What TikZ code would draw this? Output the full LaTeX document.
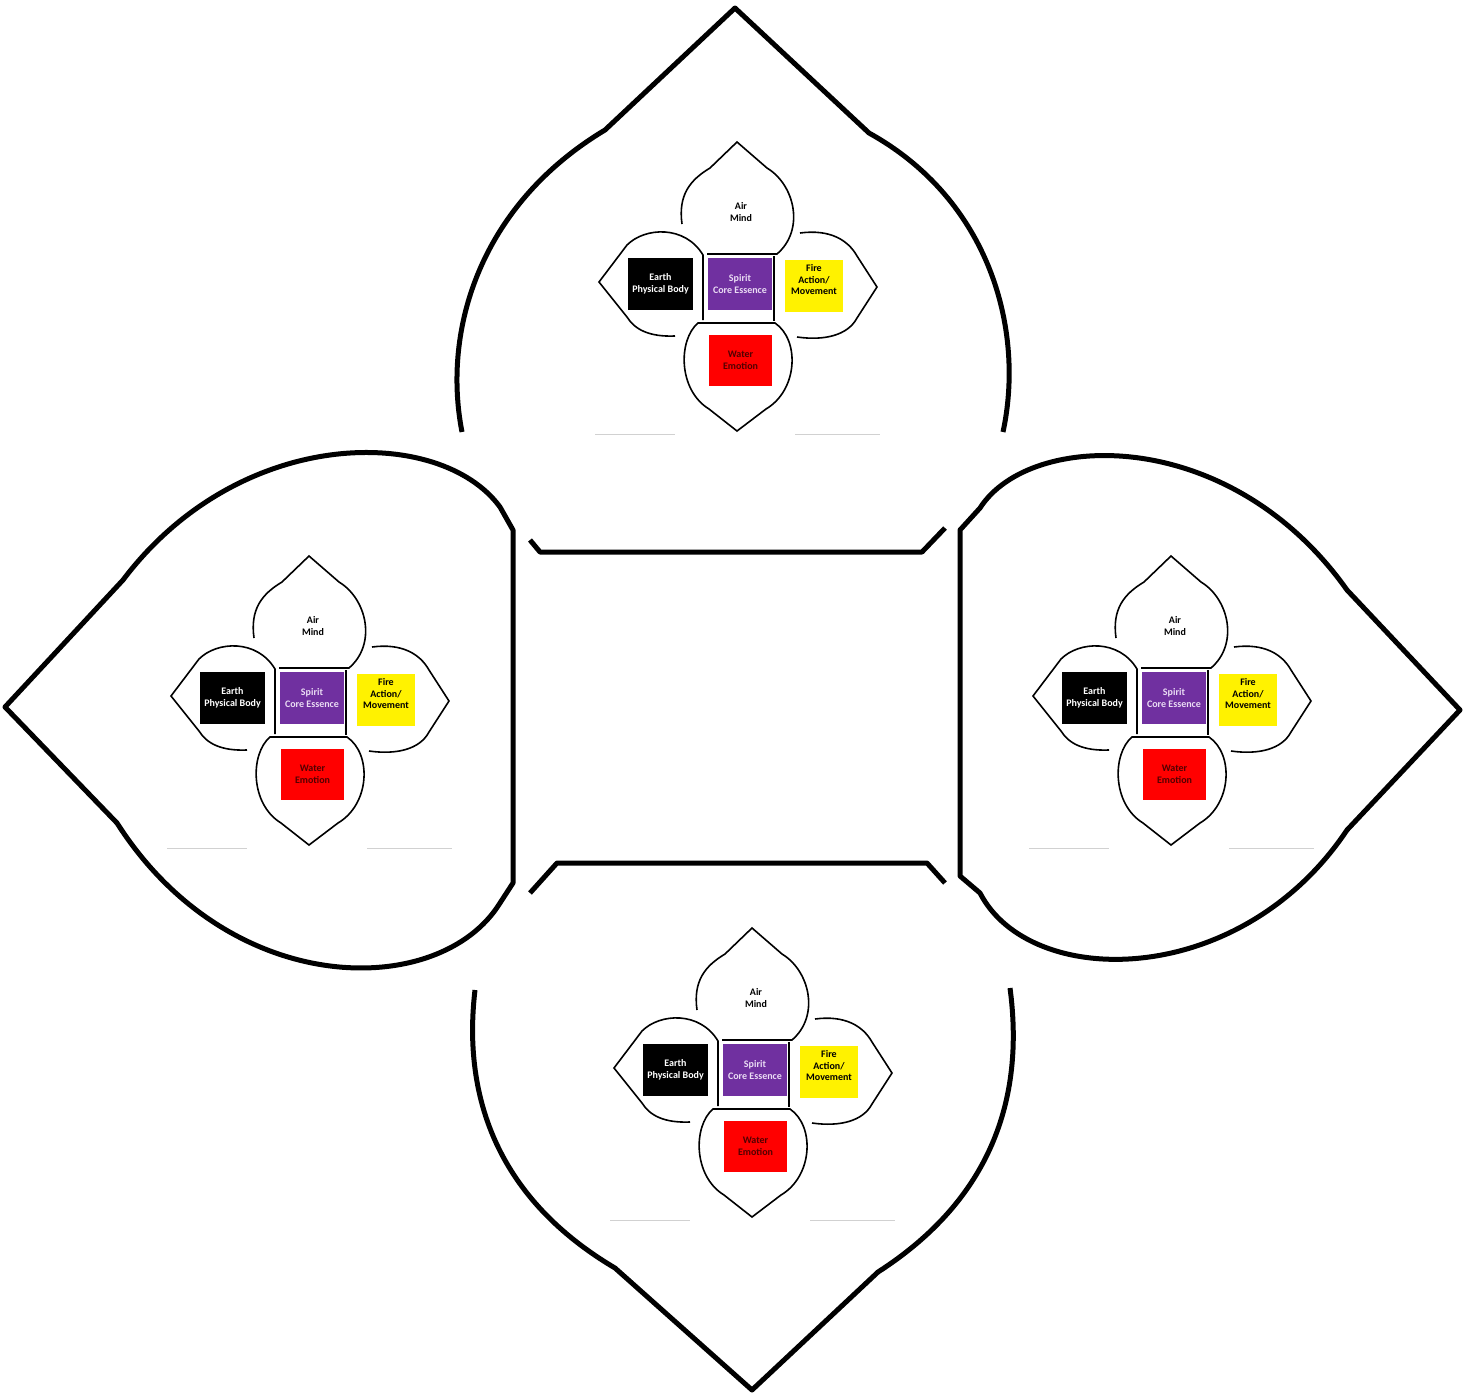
\documentclass[tikz,border=0pt]{standalone}
\usepackage{fontspec}
\setmainfont{Carlito}
\usepackage{xcolor}
\usepackage{tikz}
\usetikzlibrary{calc}

\definecolor{spiritpurple}{HTML}{7030A0}
\definecolor{spirittext}{HTML}{EADCF4}
\definecolor{watertext}{HTML}{520000}

\begin{document}
\begin{tikzpicture}[x=1pt, y=-1pt,
    outline/.style={line width=5pt, line join=round},
    petal/.style={line width=1.6pt, line join=miter},
    box/.style={minimum width=#1pt, minimum height=52pt, inner sep=0pt, align=center,
        font=\bfseries\fontsize{10}{11.5}\selectfont},
    guide/.style={line width=0.8pt, black!18}]
    \useasboundingbox (0,0) rectangle (1465,1393);

    % Canh hoa tren
    \draw[outline] (462,432) .. controls (442,330) and (480,205) .. (605,130)
        -- (735,8) -- (869,133) .. controls (990,200) and (1025,330) .. (1003,432);
    % Canh hoa trai
    \draw[outline] (513,530) -- (513,883) -- (500,903)
        .. controls (440,1000) and (230,1000) .. (117,823) -- (5,707) -- (123,580)
        .. controls (240,425) and (440,425) .. (500,507) -- cycle;
    % Canh hoa phai
    \draw[outline] (960,530) -- (960,876) -- (980,893)
        .. controls (1030,990) and (1240,990) .. (1347,830) -- (1460,710) -- (1347,590)
        .. controls (1230,425) and (1030,430) .. (980,508) -- cycle;
    % Canh hoa duoi
    \draw[outline] (475,990) .. controls (462,1100) and (500,1200) .. (615,1268)
        -- (752,1390) -- (878,1272) .. controls (990,1200) and (1025,1100) .. (1010,988);
    % Khung giua
    \draw[outline] (530,540) -- (540,552) -- (922,552) -- (945,528);
    \draw[outline] (530,893) -- (557,863) -- (927,863) -- (945,883);

    % Bon bong hoa nho
    \foreach \cx/\cy/\n in {740/285/t, 312/699/l, 1174/699/r, 755/1071/b} {
    \begin{scope}[shift={(\cx,\cy)}]
        % Air
        \draw[petal] (-58,-61) .. controls (-62,-90) and (-50,-105) .. (-30,-117)
            -- (-3,-143) -- (27,-117) .. controls (55,-100) and (65,-55) .. (37,-31) -- (-33,-31);
        % Earth
        \draw[petal] (-65,51) .. controls (-90,52) and (-105,45) .. (-113,32)
            -- (-141,-3) -- (-113,-40) .. controls (-95,-58) and (-55,-60) .. (-37,-30) -- (-37,35);
        % Fire
        \draw[petal] (60,-52) .. controls (90,-56) and (108,-45) .. (117,-29)
            -- (137,2) -- (117,33) .. controls (108,50) and (85,56) .. (57,52);
        \draw[petal] (34,-29) -- (34,36);
        % Water
        \draw[petal] (-42,38) .. controls (-62,55) and (-62,105) .. (-31,124)
            -- (-3,146) -- (26,124) .. controls (58,105) and (60,55) .. (35,38) -- cycle;

        \node[box=65, fill=black, text=white] (earth-\n) at (-79.5,-1) {Earth\\Physical Body};
        \node[box=64, fill=spiritpurple, text=spirittext] (spirit-\n) at (0,-1) {Spirit\\Core Essence};
        \node[box=58, fill=yellow] (fire-\n) at (74,1) {};
        \node[box=58, minimum height=36pt, text=black] (firetext-\n) at (74,-5) {Fire\\Action/\\Movement};
        \node[box=63, minimum height=51pt, fill=red, text=watertext] (water-\n) at (0.5,75.5) {Water\\Emotion};
        \node[box=60, minimum height=24pt, text=black] (air-\n) at (1,-73) {Air\\Mind};

        \draw[guide] (-145,149) -- (-65,149) (55,149) -- (140,149);
    \end{scope}
    }
\end{tikzpicture}
\end{document}
